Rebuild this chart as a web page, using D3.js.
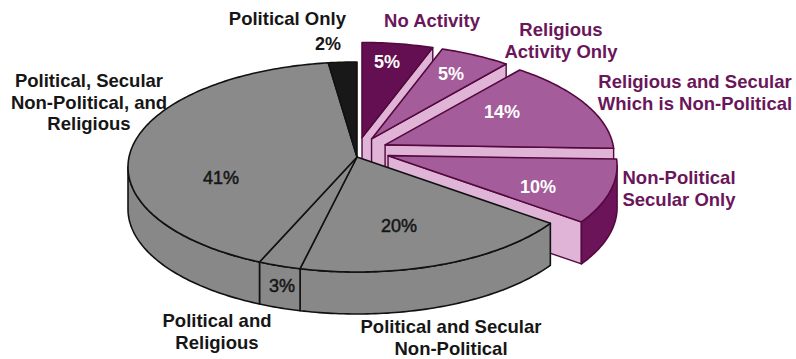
<!DOCTYPE html>
<html>
<head>
<meta charset="utf-8">
<script src="https://cdn.jsdelivr.net/npm/d3@7"></script>
<style>
  html, body { margin: 0; padding: 0; background: #ffffff; }
  svg { display: block; }
  text { font-family: "Liberation Sans", Arial, Helvetica, sans-serif; }
</style>
</head>
<body>
<svg id="chart" width="796" height="359"></svg>
<script>
// Share of respondents by type of activity (percent), clockwise from 12 o'clock
const categories = [
  ["No Activity"],
  ["Religious", "Activity Only"],
  ["Religious and Secular", "Which is Non-Political"],
  ["Non-Political", "Secular Only"],
  ["Political and Secular", "Non-Political"],
  ["Political and", "Religious"],
  ["Political, Secular", "Non-Political, and", "Religious"],
  ["Political Only"]
];
const values = [5, 5, 14, 10, 20, 3, 41, 2];
const involvesPolitics = [false, false, false, false, true, true, true, true];
const valueLabels = values.map(v => v + "%");

// Text placement: [x, first baseline, anchor]
const categoryLabelPos = [
  [432, 27, "middle"],
  [561, 36, "middle"],
  [695, 88, "middle"],
  [679, 184, "middle"],
  [451, 333, "middle"],
  [217, 327, "middle"],
  [89, 87, "middle"],
  [346, 25, "end"]
];
const valueLabelPos = [
  [387, 68, "middle"],
  [451, 80, "middle"],
  [502, 118, "middle"],
  [538, 193, "middle"],
  [399, 232, "middle"],
  [282, 292, "middle"],
  [221, 184, "middle"],
  [341, 50, "end"]
];

const svg = d3.select("#chart");

// Pie geometry: elliptical top face seen from above-front
const cx = 357, cy = 167, apexY = 157;
const rx = 229, ry = 105, depth = 42;
const explode = 0.14, lift = 5;
const lineH = 21.6;

const slices = d3.pie().sort(null).value(d => d)(values)
  .map((s, i) => {
    const mid = (s.startAngle + s.endAngle) / 2;
    const off = involvesPolitics[i]
      ? [0, 0]
      : [explode * rx * Math.sin(mid), -explode * ry * Math.cos(mid) - lift];
    return { ...s, i, off };
  });

const rim = (a, o, dz = 0) => [cx + o[0] + rx * Math.sin(a), cy + o[1] - ry * Math.cos(a) + dz];
const apex = (o, dz = 0) => [cx + o[0], apexY + o[1] + dz];
const arcPts = (a0, a1, o, dz) => {
  const n = Math.max(2, Math.ceil((a1 - a0) / (Math.PI / 180)));
  return d3.range(n + 1).map(k => rim(a0 + (a1 - a0) * k / n, o, dz));
};
const path = pts => d3.line()(pts) + "Z";

const colors = {
  topDark: "#640f51",
  topPurple: "#a45c9a",
  facePink: "#dfb4d7",
  wallPurple: "#6c1459",
  strokePurple: "#55083f",
  topGray: "#8a8a8a",
  wallGray: "#888888",
  black: "#181818",
  strokeGray: "#111111"
};
const topFill = s => s.i === 0 ? colors.topDark
  : !involvesPolitics[s.i] ? colors.topPurple
  : s.i === values.length - 1 ? colors.black : colors.topGray;

const pieG = svg.append("g");

function drawWall(g, s, fill, stroke) {
  const a0 = Math.max(s.startAngle, Math.PI / 2);
  const a1 = Math.min(s.endAngle, 3 * Math.PI / 2);
  if (a1 <= a0) return;
  const pts = arcPts(a0, a1, s.off, 0).concat(arcPts(a0, a1, s.off, depth).reverse());
  g.append("path").attr("d", path(pts))
    .attr("fill", fill).attr("stroke", stroke).attr("stroke-width", 1.6)
    .attr("stroke-linejoin", "round");
}
function drawTop(g, s, stroke) {
  const pts = [apex(s.off)].concat(arcPts(s.startAngle, s.endAngle, s.off, 0));
  g.append("path").attr("d", path(pts))
    .attr("fill", topFill(s)).attr("stroke", stroke).attr("stroke-width", 1.6)
    .attr("stroke-linejoin", "round");
}
function drawCutFace(g, s, a, fill, stroke) {
  const pts = [apex(s.off), rim(a, s.off), rim(a, s.off, depth), apex(s.off, depth)];
  g.append("path").attr("d", path(pts))
    .attr("fill", fill).attr("stroke", stroke).attr("stroke-width", 1.4)
    .attr("stroke-linejoin", "round");
}

// Pulled-out non-political slices, back to front
slices.filter(s => !involvesPolitics[s.i]).forEach(s => {
  const g = pieG.append("g");
  if (Math.sin(s.endAngle) > 0) drawCutFace(g, s, s.endAngle, colors.facePink, colors.strokePurple);
  if (Math.sin(s.startAngle) < -1e-6) drawCutFace(g, s, s.startAngle, colors.facePink, colors.strokePurple);
  drawWall(g, s, colors.wallPurple, colors.strokePurple);
  drawTop(g, s, colors.strokePurple);
});

// Political slices stay together as one block
const gray = slices.filter(s => involvesPolitics[s.i]);
const grayG = pieG.append("g");
gray.forEach(s => drawWall(grayG, s, colors.wallGray, colors.strokeGray));
gray.forEach(s => drawTop(grayG, s, colors.strokeGray));

// Category labels
const labelG = svg.append("g");
categories.forEach((lines, i) => {
  const [x, y, anchor] = categoryLabelPos[i];
  const t = labelG.append("text")
    .attr("x", x).attr("y", y).attr("text-anchor", anchor)
    .attr("font-size", 18.5).attr("font-weight", "bold")
    .attr("fill", involvesPolitics[i] ? "#161616" : "#6a165b");
  lines.forEach((ln, k) => t.append("tspan").attr("x", x).attr("y", y + k * lineH).text(ln));
});

// Percent labels
valueLabels.forEach((txt, i) => {
  const [x, y, anchor] = valueLabelPos[i];
  const inside = !involvesPolitics[i];
  const t = labelG.append("text")
    .attr("x", x).attr("y", y).attr("text-anchor", anchor)
    .attr("font-size", 18)
    .attr("font-weight", inside || i === values.length - 1 ? "bold" : "normal")
    .attr("fill", inside ? "#ffffff" : "#161616")
    .text(txt);
  if (!inside && i !== values.length - 1) {
    t.attr("stroke", "#161616").attr("stroke-width", 0.5);
  }
});
</script>
</body>
</html>
